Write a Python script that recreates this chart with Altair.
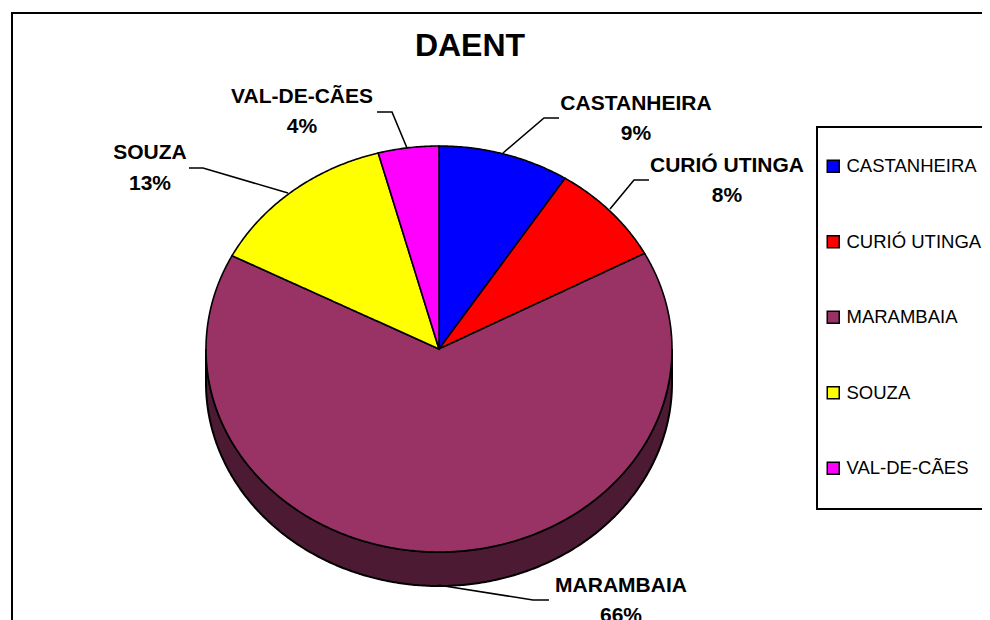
import math
import altair as alt
import pandas as pd

# ---- values
categories = ["CASTANHEIRA", "CURIÓ UTINGA", "MARAMBAIA", "SOUZA", "VAL-DE-CÃES"]
shares = [9.1, 8.1, 65.4, 13.2, 4.2]
percent_labels = ["9%", "8%", "66%", "13%", "4%"]
colors = ["#0000ff", "#ff0000", "#993366", "#ffff00", "#ff00ff"]
wall_color = "#4d1a33"
title_text = "DAENT"

# ---- layout of the tilted pie, in page pixels
W, H = 974, 612
CX, CY, RX, RY, DEPTH = 439, 349, 233, 203, 34
label_x = [636, 727, 621, 150, 302]
name_y = [104, 166, 586, 153, 97]
pct_y = [134, 196, 616, 184, 127]
leader_x = [[503, 544, 559], [610, 634, 649], [438, 533, 549], [288, 203, 189], [407, 392, 377]]
leader_y = [[153, 118, 118], [209, 180, 180], [585, 600, 600], [193, 168, 168], [148, 112, 112]]


def sector_polygon(t0, t1):
    n = max(3, int((t1 - t0) * 120))
    pts = [(CX, CY)]
    for i in range(n + 1):
        t = t0 + (t1 - t0) * i / n
        pts.append((CX + RX * math.sin(t), CY - RY * math.cos(t)))
    return pts


def sector_rows(name, t0, t1):
    pts = sector_polygon(t0, t1)
    xs = sorted({round(p[0], 3) for p in pts})
    rows = []
    m = len(pts)
    for x in xs:
        hits = []
        for i in range(m):
            (x0, y0), (x1, y1) = pts[i], pts[(i + 1) % m]
            lo, hi = min(x0, x1), max(x0, x1)
            if lo - 0.002 <= x <= hi + 0.002:
                if abs(x1 - x0) < 1e-6:
                    hits += [y0, y1]
                else:
                    hits.append(y0 + (y1 - y0) * (x - x0) / (x1 - x0))
        rows.append({"name": name, "x": x, "y": min(hits), "y2": max(hits)})
    return rows


total = sum(shares)
rows = []
cum = 0.0
for name, s in zip(categories, shares):
    t0 = 2 * math.pi * cum / total
    cum += s
    rows += sector_rows(name, t0, 2 * math.pi * cum / total)
sectors = pd.DataFrame(rows)

wall_rows = []
for i in range(0, 361):
    x = CX - RX * math.cos(math.pi * i / 360)
    bottom = CY + RY * math.sin(math.pi * i / 360)
    wall_rows.append({"x": x, "y": bottom, "y2": bottom + DEPTH})
wall = pd.DataFrame(wall_rows)

leaders = pd.DataFrame(
    [
        {"name": n, "i": i, "x": px, "y": py}
        for n, xs_, ys_ in zip(categories, leader_x, leader_y)
        for i, (px, py) in enumerate(zip(xs_, ys_))
    ]
)
labels = pd.DataFrame(
    [{"t": n, "x": x, "y": y} for n, x, y in zip(categories, label_x, name_y)]
    + [{"t": p, "x": x, "y": y} for p, x, y in zip(percent_labels, label_x, pct_y)]
)
boxes = pd.DataFrame(
    [
        {"x": 12, "x2": 1010, "y": 13, "y2": 660},
        {"x": 817, "x2": 1010, "y": 127, "y2": 509},
    ]
)
title_df = pd.DataFrame([{"t": title_text, "x": 470, "y": 46}])

X = alt.X("x:Q", axis=None, scale=alt.Scale(domain=[8, 982], nice=False, zero=False))
Y = alt.Y("y:Q", axis=None, scale=alt.Scale(domain=[620, 8], nice=False, zero=False))

frame = alt.Chart(boxes).mark_rect(fill="white", stroke="black", strokeWidth=2).encode(
    x=X, x2="x2:Q", y=Y, y2="y2:Q"
)
wall_layer = alt.Chart(wall).mark_area(fill=wall_color, stroke="black", strokeWidth=2).encode(
    x=X, y=Y, y2="y2:Q"
)
pie = alt.Chart(sectors).mark_area(stroke="black", strokeWidth=1.6, opacity=1).encode(
    x=X,
    y=Y,
    y2="y2:Q",
    color=alt.Color(
        "name:N",
        scale=alt.Scale(domain=categories, range=colors),
        sort=categories,
        legend=alt.Legend(
            orient="none",
            legendX=812,
            legendY=145,
            title=None,
            symbolType="square",
            symbolSize=144,
            symbolStrokeColor="black",
            symbolStrokeWidth=1.5,
            symbolOpacity=1,
            labelFont="Liberation Sans",
            labelFontSize=18.5,
            labelColor="black",
            labelLimit=300,
            labelOffset=4,
            rowPadding=56.5,
            padding=4,
        ),
    ),
)
leader_layer = alt.Chart(leaders).mark_line(color="black", strokeWidth=1.6).encode(
    x=X, y=Y, detail="name:N", order="i:Q"
)
text_layer = alt.Chart(labels).mark_text(
    font="Liberation Sans", fontWeight="bold", fontSize=21, color="black", align="center", baseline="middle"
).encode(x=X, y=Y, text="t:N")
title_layer = alt.Chart(title_df).mark_text(
    font="Liberation Sans", fontWeight="bold", fontSize=32, color="black", align="center", baseline="middle"
).encode(x=X, y=Y, text="t:N")

chart = (
    alt.layer(frame, wall_layer, pie, leader_layer, text_layer, title_layer)
    .properties(width=W, height=H, padding=0, autosize=alt.AutoSizeParams(type="none"), background="white")
    .configure_view(stroke=None)
)
chart.save("out.html", embed_options={"renderer": "svg", "actions": False})
